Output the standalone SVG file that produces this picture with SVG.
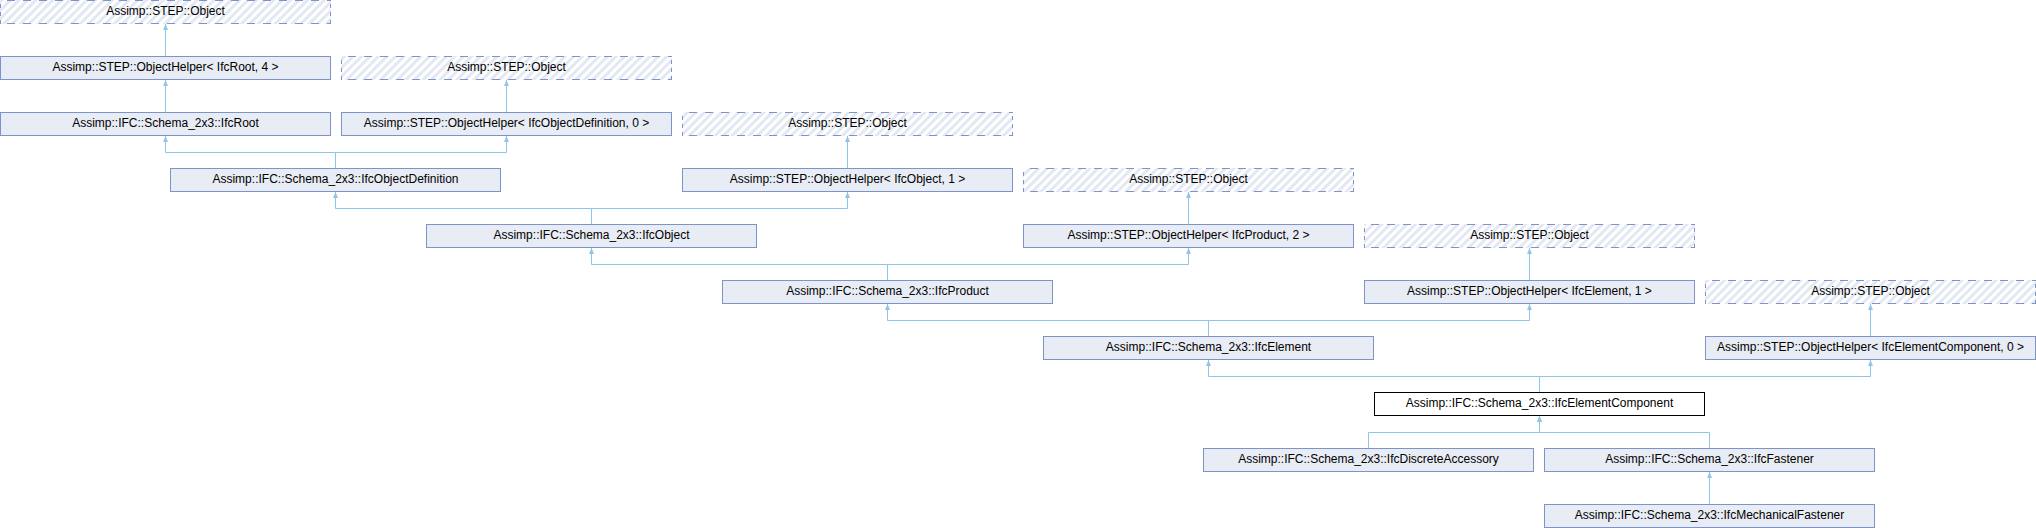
<svg xmlns="http://www.w3.org/2000/svg" width="2036" height="528" viewBox="0 0 2036 528">
<style>
.box{fill:#E8ECF4;stroke:#7F93CB;stroke-width:1}
.cur{fill:#FFFFFF;stroke:#000000;stroke-width:1}
.hb{fill:url(#hatch);stroke:none}
.dh{fill:none;stroke:#7F93CB;stroke-width:1;stroke-dasharray:8 8;stroke-dashoffset:9}
.dv{fill:none;stroke:#7F93CB;stroke-width:1;stroke-dasharray:4 4;stroke-dashoffset:4}
.lbl{font-family:"Liberation Sans",Arial,Helvetica,sans-serif;font-size:12px;fill:#000000;text-anchor:middle}
.edge{fill:none;stroke:#8FC5E6;stroke-width:1;marker-end:url(#arr)}
</style>
<defs>
<pattern id="hatch" patternUnits="userSpaceOnUse" width="6" height="6" patternTransform="rotate(45)">
<rect x="0" y="0" width="6" height="6" fill="#FFFFFF"/>
<rect x="0" y="0" width="3" height="6" fill="#E3E8F2"/>
</pattern>
<marker id="arr" markerUnits="userSpaceOnUse" markerWidth="6" markerHeight="5" viewBox="0 0 6 5" refX="6" refY="2.5" orient="auto">
<path d="M0,0 L6,2.5 L0,5 z" fill="#8FC5E6"/>
</marker>
</defs>
<rect x="0" y="0" width="2036" height="528" fill="#FFFFFF"/>
<g id="connectors">
<path class="edge" d="M165.5,56 V24"/>
<path class="edge" d="M165.5,112 V80"/>
<path class="edge" d="M506.5,112 V80"/>
<path class="edge" d="M335.5,168 V152.5 H165.5 V136"/>
<path class="edge" d="M335.5,168 V152.5 H506.5 V136"/>
<path class="edge" d="M847.5,168 V136"/>
<path class="edge" d="M591.5,224 V208.5 H335.5 V192"/>
<path class="edge" d="M591.5,224 V208.5 H847.5 V192"/>
<path class="edge" d="M1188.5,224 V192"/>
<path class="edge" d="M887.5,280 V264.5 H591.5 V248"/>
<path class="edge" d="M887.5,280 V264.5 H1188.5 V248"/>
<path class="edge" d="M1529.5,280 V248"/>
<path class="edge" d="M1208.5,336 V320.5 H887.5 V304"/>
<path class="edge" d="M1208.5,336 V320.5 H1529.5 V304"/>
<path class="edge" d="M1870.5,336 V304"/>
<path class="edge" d="M1539.5,392 V376.5 H1208.5 V360"/>
<path class="edge" d="M1539.5,392 V376.5 H1870.5 V360"/>
<path class="edge" d="M1368.5,448 V432.5 H1539.5 V416"/>
<path class="edge" d="M1709.5,448 V432.5 H1539.5 V416"/>
<path class="edge" d="M1709.5,504 V472"/>
</g>
<g id="n0"><rect class="hb" x="0" y="0" width="331" height="24"/><path class="dh" d="M0,0.5 h331 M0,23.5 h331"/><path class="dv" d="M0.5,0 v24 M330.5,0 v24"/><text class="lbl" x="165.5" y="15">Assimp::STEP::Object</text></g>
<g id="n1"><rect class="box" x="0.5" y="56.5" width="330" height="23"/><text class="lbl" x="165.5" y="71">Assimp::STEP::ObjectHelper&lt; IfcRoot, 4 &gt;</text></g>
<g id="n2"><rect class="hb" x="341" y="56" width="331" height="24"/><path class="dh" d="M341,56.5 h331 M341,79.5 h331"/><path class="dv" d="M341.5,56 v24 M671.5,56 v24"/><text class="lbl" x="506.5" y="71">Assimp::STEP::Object</text></g>
<g id="n3"><rect class="box" x="0.5" y="112.5" width="330" height="23"/><text class="lbl" x="165.5" y="127">Assimp::IFC::Schema_2x3::IfcRoot</text></g>
<g id="n4"><rect class="box" x="341.5" y="112.5" width="330" height="23"/><text class="lbl" x="506.5" y="127">Assimp::STEP::ObjectHelper&lt; IfcObjectDefinition, 0 &gt;</text></g>
<g id="n5"><rect class="hb" x="682" y="112" width="331" height="24"/><path class="dh" d="M682,112.5 h331 M682,135.5 h331"/><path class="dv" d="M682.5,112 v24 M1012.5,112 v24"/><text class="lbl" x="847.5" y="127">Assimp::STEP::Object</text></g>
<g id="n6"><rect class="box" x="170.5" y="168.5" width="330" height="23"/><text class="lbl" x="335.5" y="183">Assimp::IFC::Schema_2x3::IfcObjectDefinition</text></g>
<g id="n7"><rect class="box" x="682.5" y="168.5" width="330" height="23"/><text class="lbl" x="847.5" y="183">Assimp::STEP::ObjectHelper&lt; IfcObject, 1 &gt;</text></g>
<g id="n8"><rect class="hb" x="1023" y="168" width="331" height="24"/><path class="dh" d="M1023,168.5 h331 M1023,191.5 h331"/><path class="dv" d="M1023.5,168 v24 M1353.5,168 v24"/><text class="lbl" x="1188.5" y="183">Assimp::STEP::Object</text></g>
<g id="n9"><rect class="box" x="426.5" y="224.5" width="330" height="23"/><text class="lbl" x="591.5" y="239">Assimp::IFC::Schema_2x3::IfcObject</text></g>
<g id="n10"><rect class="box" x="1023.5" y="224.5" width="330" height="23"/><text class="lbl" x="1188.5" y="239">Assimp::STEP::ObjectHelper&lt; IfcProduct, 2 &gt;</text></g>
<g id="n11"><rect class="hb" x="1364" y="224" width="331" height="24"/><path class="dh" d="M1364,224.5 h331 M1364,247.5 h331"/><path class="dv" d="M1364.5,224 v24 M1694.5,224 v24"/><text class="lbl" x="1529.5" y="239">Assimp::STEP::Object</text></g>
<g id="n12"><rect class="box" x="722.5" y="280.5" width="330" height="23"/><text class="lbl" x="887.5" y="295">Assimp::IFC::Schema_2x3::IfcProduct</text></g>
<g id="n13"><rect class="box" x="1364.5" y="280.5" width="330" height="23"/><text class="lbl" x="1529.5" y="295">Assimp::STEP::ObjectHelper&lt; IfcElement, 1 &gt;</text></g>
<g id="n14"><rect class="hb" x="1705" y="280" width="331" height="24"/><path class="dh" d="M1705,280.5 h331 M1705,303.5 h331"/><path class="dv" d="M1705.5,280 v24 M2035.5,280 v24"/><text class="lbl" x="1870.5" y="295">Assimp::STEP::Object</text></g>
<g id="n15"><rect class="box" x="1043.5" y="336.5" width="330" height="23"/><text class="lbl" x="1208.5" y="351">Assimp::IFC::Schema_2x3::IfcElement</text></g>
<g id="n16"><rect class="box" x="1705.5" y="336.5" width="330" height="23"/><text class="lbl" x="1870.5" y="351">Assimp::STEP::ObjectHelper&lt; IfcElementComponent, 0 &gt;</text></g>
<g id="n17"><rect class="cur" x="1374.5" y="392.5" width="330" height="23"/><text class="lbl" x="1539.5" y="407">Assimp::IFC::Schema_2x3::IfcElementComponent</text></g>
<g id="n18"><rect class="box" x="1203.5" y="448.5" width="330" height="23"/><text class="lbl" x="1368.5" y="463">Assimp::IFC::Schema_2x3::IfcDiscreteAccessory</text></g>
<g id="n19"><rect class="box" x="1544.5" y="448.5" width="330" height="23"/><text class="lbl" x="1709.5" y="463">Assimp::IFC::Schema_2x3::IfcFastener</text></g>
<g id="n20"><rect class="box" x="1544.5" y="504.5" width="330" height="23"/><text class="lbl" x="1709.5" y="519">Assimp::IFC::Schema_2x3::IfcMechanicalFastener</text></g>
</svg>
